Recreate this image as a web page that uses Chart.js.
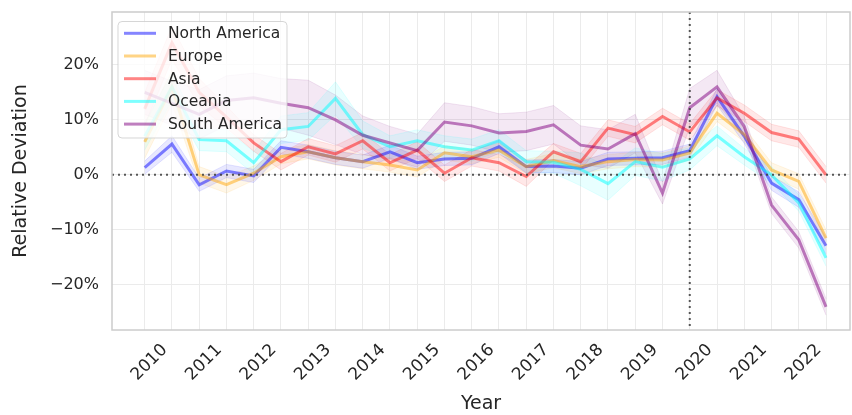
<!DOCTYPE html>
<html>
<head>
<meta charset="utf-8">
<script src="https://cdn.jsdelivr.net/npm/chart.js@4.4.0/dist/chart.umd.min.js"></script>
<style>
  body { margin: 0; background: #fff; }
</style>
</head>
<body>
<canvas id="grafico" width="852" height="415"></canvas>
<script>
// pontos semestrais de 2010 a 2022.5
const anos = [2010, 2010.5, 2011, 2011.5, 2012, 2012.5, 2013, 2013.5, 2014, 2014.5, 2015, 2015.5, 2016,
              2016.5, 2017, 2017.5, 2018, 2018.5, 2019, 2019.5, 2020, 2020.5, 2021, 2021.5, 2022, 2022.5];
const anoMarco = 2020;
const ticksY = [-20, -10, 0, 10, 20];

const regioes = ['North America', 'Europe', 'Asia', 'Oceania', 'South America'];

// desvio relativo (%)
const northAmerica = [1.3, 5.6, -1.8, 0.7, -0.2, 5.0, 4.2, 3.1, 2.4, 4.2, 2.2, 2.9, 3.0, 5.1, 1.5, 1.6, 1.2, 2.9, 3.0, 3.1, 4.4, 14.2, 7.0, -1.5, -4.5, -12.9];
const europe       = [6.0, 16.0, 0.0, -1.8, 0.3, 3.3, 4.2, 3.1, 2.4, 1.8, 0.9, 4.0, 3.3, 4.5, 1.5, 2.6, 1.5, 2.4, 2.8, 2.7, 4.0, 11.2, 7.3, 0.9, -1.2, -11.5];
const asia         = [12.0, 24.0, 15.0, 10.5, 5.8, 2.4, 5.1, 3.8, 6.2, 2.2, 4.5, 0.3, 3.1, 2.2, -0.3, 4.2, 2.4, 8.5, 7.3, 10.6, 7.8, 14.0, 11.2, 7.7, 6.5, 0.0];
const oceania      = [7.0, 16.0, 6.4, 6.2, 2.2, 8.2, 8.8, 13.9, 7.3, 5.1, 6.2, 5.1, 4.5, 6.2, 2.4, 2.3, 1.0, -1.6, 2.4, 1.4, 2.9, 7.1, 3.3, 0.0, -5.1, -15.1];
const southAmerica = [15.0, 13.0, 11.0, 13.5, 14.0, 13.0, 12.2, 10.0, 7.2, 5.8, 4.4, 9.6, 8.9, 7.6, 7.9, 9.1, 5.4, 4.7, 7.5, -3.3, 12.2, 16.0, 8.8, -5.5, -11.8, -24.0];

// meia largura da faixa de confiança (%)
const faixaNA = [1.2, 1.5, 1.2, 1.2, 1.2, 1.2, 1.2, 1.2, 1.2, 1.2, 1.2, 1.2, 1.2, 1.2, 1.2, 1.2, 1.2, 1.2, 1.2, 1.2, 1.2, 1.5, 1.3, 1.3, 1.4, 1.5];
const faixaEU = [3.0, 3.0, 1.5, 1.5, 1.3, 1.3, 1.3, 1.3, 1.3, 1.3, 1.3, 1.3, 1.3, 1.3, 1.3, 1.3, 1.3, 1.3, 1.3, 1.3, 1.3, 1.5, 1.3, 1.3, 1.4, 1.5];
const faixaAS = [3.0, 3.0, 2.5, 2.0, 1.5, 1.5, 1.5, 1.5, 1.5, 1.5, 1.5, 1.5, 1.5, 1.5, 1.8, 1.5, 1.5, 1.5, 1.5, 1.5, 1.5, 1.5, 1.5, 1.5, 1.5, 1.5];
const faixaOC = [2.5, 2.5, 2.0, 2.0, 2.0, 2.5, 2.5, 3.0, 2.5, 2.0, 2.0, 2.0, 2.0, 2.0, 2.0, 2.0, 3.0, 3.0, 2.5, 2.5, 2.0, 1.8, 1.5, 1.5, 1.5, 1.5];
const faixaSA = [4.0, 4.0, 4.5, 4.5, 4.5, 4.5, 5.0, 4.5, 3.5, 3.0, 3.0, 3.5, 3.5, 3.5, 3.5, 3.5, 3.5, 3.5, 3.5, 2.0, 3.5, 3.0, 1.8, 1.5, 1.5, 1.5];

const cores = ['0,0,255', '255,165,0', '255,0,0', '0,255,255', '128,0,128'];
const alfaLinha = [0.48, 0.48, 0.48, 0.5, 0.5];
const series = [northAmerica, europe, asia, oceania, southAmerica];
const faixas = [faixaNA, faixaEU, faixaAS, faixaOC, faixaSA];

const fonte = "'DejaVu Sans', sans-serif";
const corTexto = '#262626';

function pontos(valores) {
    return valores.map((v, i) => ({ x: anos[i], y: v }));
}

const datasets = [];
for (let s = 0; s < series.length; s++) {
    const cor = cores[s];
    datasets.push({
        label: regioes[s] + ' inf',
        data: series[s].map((v, i) => ({ x: anos[i], y: v - faixas[s][i] })),
        borderColor: `rgba(${cor},0.1)`,
        borderWidth: 1,
        pointRadius: 0,
        fill: false,
        order: 10
    });
    datasets.push({
        label: regioes[s] + ' sup',
        data: series[s].map((v, i) => ({ x: anos[i], y: v + faixas[s][i] })),
        borderColor: `rgba(${cor},0.1)`,
        backgroundColor: `rgba(${cor},0.09)`,
        borderWidth: 1,
        pointRadius: 0,
        fill: '-1',
        order: 10
    });
}
for (let s = 0; s < series.length; s++) {
    datasets.push({
        label: regioes[s],
        data: pontos(series[s]),
        borderColor: `rgba(${cores[s]},${alfaLinha[s]})`,
        borderWidth: 3,
        pointRadius: 0,
        fill: false,
        tension: 0,
        order: 4 - s
    });
}

// linhas pontilhadas, moldura e legenda
const extras = {
    id: 'extras',
    afterDatasetsDraw(chart) {
        const { ctx, chartArea: a, scales: { x, y } } = chart;
        ctx.save();
        ctx.strokeStyle = 'rgba(60,60,60,0.85)';
        ctx.lineWidth = 2;
        ctx.setLineDash([2, 4]);
        const y0 = y.getPixelForValue(0);
        ctx.beginPath(); ctx.moveTo(a.left, y0); ctx.lineTo(a.right, y0); ctx.stroke();
        const xm = x.getPixelForValue(anoMarco);
        ctx.beginPath(); ctx.moveTo(xm, a.top); ctx.lineTo(xm, a.bottom); ctx.stroke();
        ctx.setLineDash([]);

        ctx.strokeStyle = '#cccccc';
        ctx.lineWidth = 1.5;
        ctx.strokeRect(a.left, a.top, a.right - a.left, a.bottom - a.top);

        // legenda
        const lx = 118, ly = 21.5, lw = 169, lh = 116.5;
        ctx.beginPath();
        ctx.roundRect(lx, ly, lw, lh, 4);
        ctx.fillStyle = 'rgba(255,255,255,0.8)';
        ctx.fill();
        ctx.strokeStyle = 'rgba(204,204,204,0.8)';
        ctx.lineWidth = 1;
        ctx.stroke();
        ctx.font = '15.5px ' + fonte;
        ctx.textBaseline = 'middle';
        for (let s = 0; s < regioes.length; s++) {
            const cy = 33.3 + s * 22.7;
            ctx.strokeStyle = `rgba(${cores[s]},${alfaLinha[s]})`;
            ctx.lineWidth = 3;
            ctx.beginPath(); ctx.moveTo(124, cy); ctx.lineTo(156, cy); ctx.stroke();
            ctx.fillStyle = corTexto;
            ctx.fillText(regioes[s], 168, cy + 1);
        }
        ctx.restore();
    }
};

const ctx = document.getElementById('grafico').getContext('2d');
const grafico = new Chart(ctx, {
    type: 'line',
    data: { datasets: datasets },
    options: {
        responsive: false,
        animation: false,
        devicePixelRatio: 1,
        layout: { padding: { top: 12, right: 2, left: 0, bottom: 0 } },
        plugins: { legend: { display: false }, tooltip: { enabled: false } },
        scales: {
            x: {
                type: 'linear',
                min: 2009.4,
                max: 2022.94,
                afterBuildTicks: (scale) => { scale.ticks = anos.map(v => ({ value: v })); },
                afterFit: (scale) => {
                    scale.height = 85;
                    scale.paddingLeft = 0;
                    scale.paddingRight = 0;
                },
                grid: { color: '#ebebeb', lineWidth: 1, drawTicks: false },
                border: { display: false },
                ticks: {
                    autoSkip: false,
                    minRotation: 45,
                    maxRotation: 45,
                    padding: 10,
                    labelOffset: 20,
                    color: corTexto,
                    font: { family: fonte, size: 17 },
                    callback: (v) => Number.isInteger(v) ? String(v) : ''
                },
                title: {
                    display: true,
                    text: 'Year',
                    color: corTexto,
                    font: { family: fonte, size: 19 },
                    padding: { top: 0, bottom: 0 }
                }
            },
            y: {
                min: -28.2,
                max: 29.6,
                afterBuildTicks: (scale) => { scale.ticks = ticksY.map(v => ({ value: v })); },
                afterFit: (scale) => {
                    scale.width = 112;
                    scale.paddingTop = 0;
                    scale.paddingBottom = 0;
                },
                grid: { color: '#ebebeb', lineWidth: 1, drawTicks: false },
                border: { display: false },
                ticks: {
                    padding: 13,
                    color: corTexto,
                    font: { family: fonte, size: 16 },
                    callback: (v) => (v < 0 ? '\u2212' : '') + Math.abs(v) + '%'
                },
                title: {
                    display: true,
                    text: 'Relative Deviation',
                    color: corTexto,
                    font: { family: fonte, size: 19 },
                    padding: { top: 10, bottom: 0 }
                }
            }
        }
    },
    plugins: [extras]
});
</script>
</body>
</html>
